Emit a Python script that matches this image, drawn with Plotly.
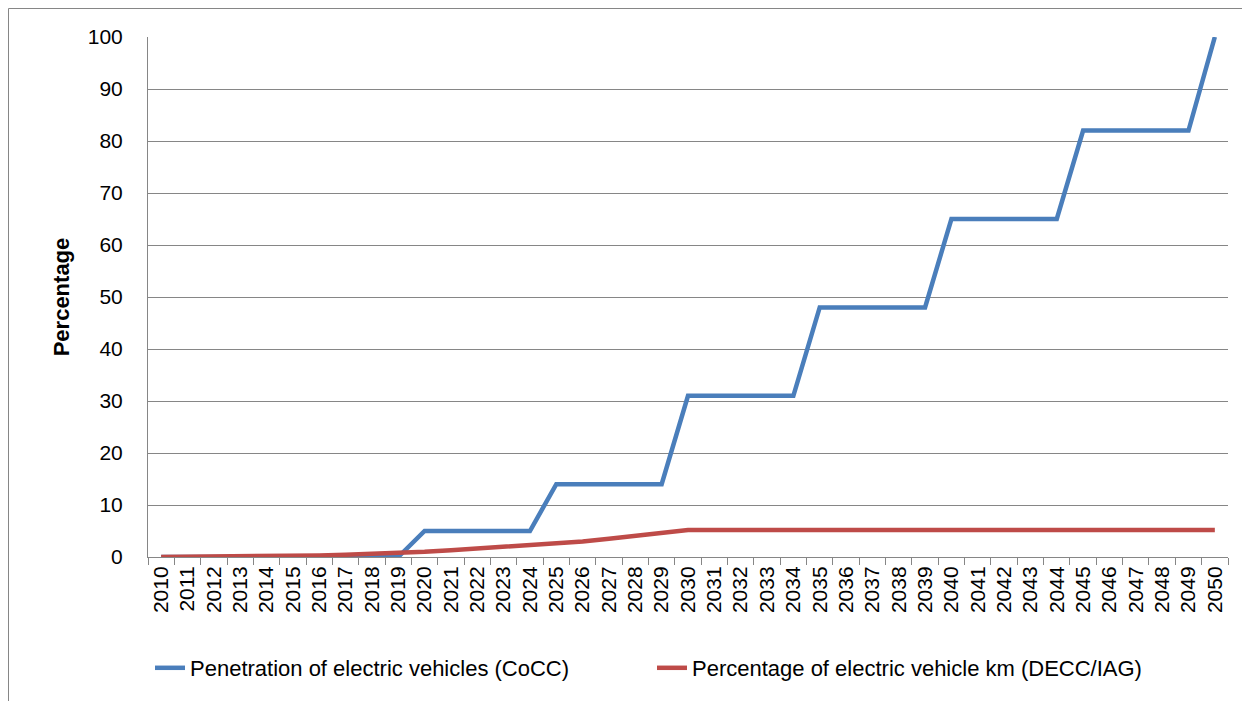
import plotly.graph_objects as go

years = [str(y) for y in range(2010, 2051)]
penetration_cocc = [0, 0, 0, 0, 0, 0, 0, 0, 0, 0,
                    5, 5, 5, 5, 5,
                    14, 14, 14, 14, 14,
                    31, 31, 31, 31, 31,
                    48, 48, 48, 48, 48,
                    65, 65, 65, 65, 65,
                    82, 82, 82, 82, 82,
                    100]
ev_km_decc = [0, 0.02, 0.05, 0.08, 0.12, 0.2, 0.3, 0.45, 0.6, 0.8,
              1.0, 1.3, 1.6, 1.9, 2.2, 2.5, 3.0, 3.5, 4.1, 4.6,
              5.2, 5.2, 5.2, 5.2, 5.2, 5.2, 5.2, 5.2, 5.2, 5.2,
              5.2, 5.2, 5.2, 5.2, 5.2, 5.2, 5.2, 5.2, 5.2, 5.2,
              5.2]
y_ticks = list(range(0, 101, 10))

FONT = "Liberation Sans"
GRID = "#868686"

W, H = 1242, 693
L, R, T, B = 140, 22, 29, 144
PW, PH = W - L - R, H - T - B

fig = go.Figure()
fig.add_trace(go.Scatter(
    x=years, y=penetration_cocc, mode="lines",
    name="Penetration of electric vehicles (CoCC)",
    line=dict(color="#4A7EBB", width=4.5),
))
fig.add_trace(go.Scatter(
    x=years, y=ev_km_decc, mode="lines",
    name="Percentage of electric vehicle km (DECC/IAG)",
    line=dict(color="#BE4B48", width=4.5),
))

fig.update_layout(
    width=W, height=H,
    margin=dict(l=L, r=R, t=T, b=B),
    paper_bgcolor="white", plot_bgcolor="white",
    font=dict(family=FONT, color="black"),
    showlegend=True,
    legend=dict(
        orientation="h", x=2 / PW, xanchor="left",
        y=-111 / PH, yanchor="middle",
        font=dict(family=FONT, size=22, color="black"),
        entrywidth=457, entrywidthmode="pixels",
        itemwidth=30,
    ),
    xaxis=dict(
        type="category", range=[-0.5, 40.5],
        tickangle=-90, tickfont=dict(size=21, family=FONT),
        showgrid=False, showline=True, linecolor=GRID, linewidth=1,
        ticks="outside", ticklen=7, tickcolor=GRID, tickson="boundaries",
        zeroline=False,
    ),
    yaxis=dict(
        range=[0, 100], tickvals=y_ticks,
        tickfont=dict(size=21, family=FONT),
        showgrid=True, gridcolor=GRID, gridwidth=1,
        showline=True, linecolor=GRID, linewidth=1,
        ticks="", ticklabelstandoff=20,
        zeroline=False,
        title=dict(text="<b>Percentage</b>", font=dict(size=22, family=FONT), standoff=12),
    ),
    shapes=[dict(
        type="rect", xref="paper", yref="paper",
        x0=(0.5 - L) / PW, x1=1.1, y0=-0.4, y1=(PH + T - 0.5) / PH,
        line=dict(color=GRID, width=1), fillcolor="rgba(0,0,0,0)", layer="below",
    )],
)

fig.write_html("out.html")
